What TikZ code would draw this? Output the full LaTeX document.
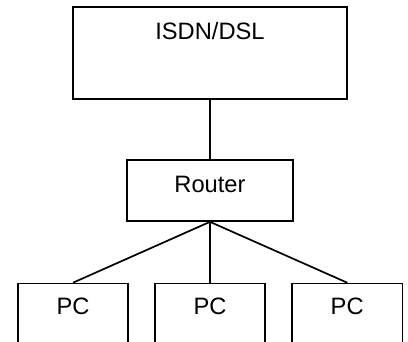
\documentclass[tikz,border=0pt]{standalone}
\usepackage{fontspec}
\setmainfont{Liberation Sans}
\begin{document}
\begin{tikzpicture}[x=1pt,y=-1pt,
  box/.style={draw=black,line width=1.7pt,rectangle,inner sep=0pt},
  lbl/.style={inner sep=0pt,font=\fontsize{23.7}{28}\selectfont},
  conn/.style={draw=black,line width=1.7pt}]
\useasboundingbox (0,0) rectangle (408,342);
\clip (0,0) rectangle (408,342);
\node[box,minimum width=274.6pt,minimum height=91.7pt] (isdn) at (210,53.15) {};
\node[lbl] (isdnt) at (210,31) {ISDN/DSL};
\node[box,minimum width=165.4pt,minimum height=61pt] (router) at (210,190.5) {};
\node[lbl] (routert) at (210,184.7) {Router};
\foreach \n/\cx in {pca/73, pcb/210, pcc/347.2} {
  \node[box,minimum width=110.5pt,minimum height=90pt,anchor=north] (\n) at (\cx,282.7) {};
  \node[lbl] (\n t) at (\cx,306.7) {PC};
}
\draw[conn] (isdn.south) -- (router.north);
\draw[conn] (router.south) -- (pca.north);
\draw[conn] (router.south) -- (pcb.north);
\draw[conn] (router.south) -- (pcc.north);
\end{tikzpicture}
\end{document}
